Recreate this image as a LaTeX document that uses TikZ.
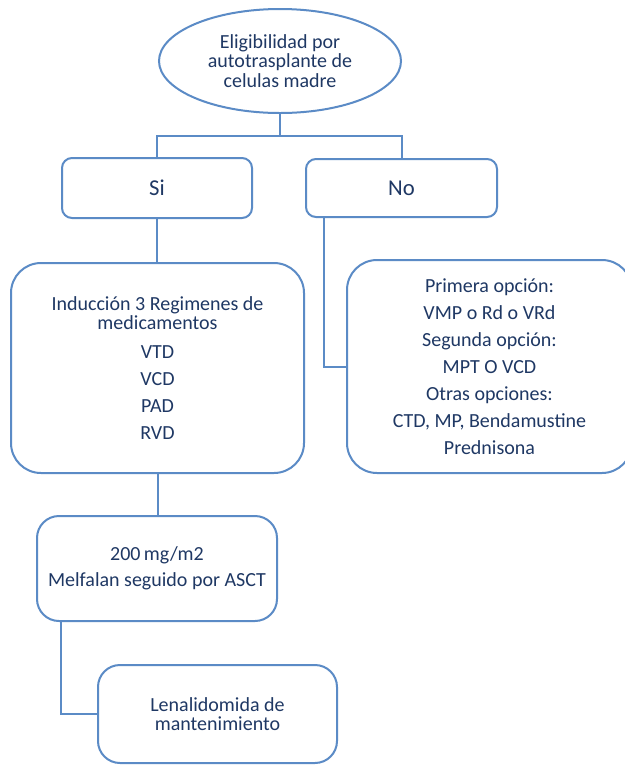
\documentclass[tikz,border=0pt]{standalone}
\usepackage{fontspec}
\setmainfont{Carlito}
\usepackage{tikz}
\usetikzlibrary{shapes.geometric, calc}
\definecolor{kline}{HTML}{5B8BC6}
\definecolor{ktext}{HTML}{1F3864}

\begin{document}
\begin{tikzpicture}[x=0.75pt, y=-0.75pt,
  box/.style={draw=kline, line width=1.5pt, rounded corners=#1, align=center,
    text=ktext, inner sep=0pt, font=\fontsize{15}{14.5}\selectfont},
  box/.default=7.5pt,
  link/.style={draw=kline, line width=1.5pt}]
\useasboundingbox (0,0) rectangle (625,765);
\fill[white] (0,0) rectangle (625,765);
\clip (0,0) rectangle (625,765);
\node[box, ellipse, minimum width=181.5pt, minimum height=78pt] (elig)
  at (280,61) {Eligibilidad por\\autotrasplante de\\celulas madre};
\node[box, minimum width=142.5pt, minimum height=45pt,
  font=\fontsize{17}{17}\selectfont] (si) at (157,188) {Si};
\node[box, minimum width=143.25pt, minimum height=43.5pt,
  font=\fontsize{17}{17}\selectfont] (no) at (401.5,188) {No};
\node[box=22.5pt, minimum width=219.75pt, minimum height=157.5pt] (ind)
  at (157.5,368) {Inducción 3 Regimenes de\\medicamentos\\[7pt]VTD\\[5.75pt]VCD\\[5.75pt]PAD\\[5.75pt]RVD};
\node[box=22.5pt, minimum width=213.75pt, minimum height=159.75pt] (opc)
  at (489.5,366.5) {Primera opción:\\[5.75pt]VMP o Rd o VRd\\[5.75pt]Segunda opción:\\[5.75pt]MPT O VCD\\[5.75pt]Otras opciones:\\[5.75pt]CTD, MP, Bendamustine\\[5.75pt]Prednisona};
\node[box=16.5pt, minimum width=180pt, minimum height=78.75pt] (melf)
  at (157,568.5) {200\,mg/m2\\[5pt]Melfalan seguido por ASCT};
\node[box=16.5pt, minimum width=179.25pt, minimum height=73.5pt] (lena)
  at (217.5,714) {Lenalidomida de\\mantenimiento};
\coordinate (bus) at (280,136);
\draw[link] (elig.south) -- (bus);
\draw[link] (si.north) |- (bus) -| (no.north);
\draw[link] (si.south) -- (si.south |- ind.north);
\draw[link] ($(no.south west)+(19,0)$) |- (opc.west);
\draw[link] (ind.south) -- (ind.south |- melf.north);
\draw[link] ($(melf.south west)+(25,0)$) |- (lena.west);
\end{tikzpicture}
\end{document}
